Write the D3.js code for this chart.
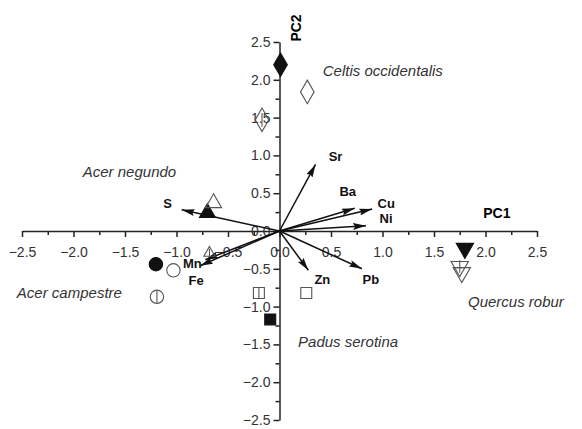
<!DOCTYPE html>
<html><head><meta charset="utf-8">
<script src="https://cdn.jsdelivr.net/npm/d3@7"></script>
<style>body{margin:0;background:#fff}svg{display:block}</style>
</head><body>
<svg id="c" width="582" height="429"></svg>
<script>
// Tick values
const xTicks = [-2.5,-2.0,-1.5,-1.0,-0.5,0.0,0.5,1.0,1.5,2.0,2.5];
const yTicks = [-2.5,-2.0,-1.5,-1.0,-0.5,0.0,0.5,1.0,1.5,2.0,2.5];
// Loading vectors
const varNames = ["S","Sr","Ba","Cu","Ni","Pb","Zn","Mn","Fe"];
const varPC1   = [-0.95,0.35,0.73,0.90,0.84,0.80,0.28,-0.72,-0.77];
const varPC2   = [0.28,0.88,0.30,0.29,0.07,-0.50,-0.52,-0.38,-0.46];
// Sample scores
const species  = ["Celtis","Celtis","Celtis","AcerN","AcerN","AcerN","AcerC","AcerC","AcerC","Quercus","Quercus","Quercus","Padus","Padus","Padus"];
const shapes   = ["diamond","diamond","diamond","triangle","triangle","triangle","circle","circle","circle","down","down","down","square","square","square"];
const fills    = ["filled","open","line","filled","open","line","filled","open","line","filled","open","line","filled","open","line"];
const scorePC1 = [0.01,0.27,-0.17,-0.70,-0.64,-0.68,-1.20,-1.03,-1.19,1.80,1.77,1.75,-0.09,0.26,-0.20];
const scorePC2 = [2.20,1.84,1.47,0.24,0.37,-0.29,-0.44,-0.52,-0.87,-0.23,-0.55,-0.47,-1.17,-0.82,-0.82];
// Species labels
const spLabels = ["Celtis occidentalis","Acer negundo","Acer campestre","Quercus robur","Padus serotina"];
const spLabX   = [0.42,-1.91,-2.55,1.83,0.18];
const spLabY   = [2.05,0.71,-0.88,-1.0,-1.53];

const svg = d3.select("#c");
const x = d3.scaleLinear().domain([-2.5,2.5]).range([22,537]);
const y = d3.scaleLinear().domain([-2.5,2.5]).range([420,42]);
const font = "Arial, 'Liberation Sans', sans-serif";
const x0 = x(0), y0 = y(0);

// X axis
const xAxis = svg.append("g").attr("transform",`translate(0,${y0})`)
  .call(d3.axisBottom(x).tickValues(xTicks).tickFormat(d3.format(".1f")).tickSize(6).tickSizeOuter(0));
xAxis.selectAll("text").attr("dy","1.2em");
const xMinor = svg.append("g").attr("transform",`translate(0,${y0})`)
  .call(d3.axisBottom(x).tickValues(d3.range(-2.25,2.5,0.5)).tickFormat("").tickSize(4).tickSizeOuter(0));
xMinor.select(".domain").remove();
// Y axis
const yAxis = svg.append("g").attr("transform",`translate(${x0},0)`)
  .call(d3.axisLeft(y).tickValues(yTicks).tickFormat(d3.format(".1f")).tickSize(6).tickSizeOuter(0));
const yMinor = svg.append("g").attr("transform",`translate(${x0},0)`)
  .call(d3.axisLeft(y).tickValues(d3.range(-2.25,2.5,0.5)).tickFormat("").tickSize(4).tickSizeOuter(0));
yMinor.select(".domain").remove();
svg.selectAll(".tick text").attr("font-size",14).attr("font-family",font).attr("fill","#333");
svg.selectAll(".domain,.tick line").attr("stroke","#222").attr("stroke-width",1.5);

// Axis titles
svg.append("text").attr("x",x(2.11)).attr("y",y(0.17)).attr("text-anchor","middle")
  .attr("font-family",font).attr("font-weight","bold").attr("font-size",14).text("PC1");
svg.append("text").attr("transform",`translate(${x0+21},28) rotate(-90)`).attr("text-anchor","middle")
  .attr("font-family",font).attr("font-weight","bold").attr("font-size",14).text("PC2");

// Arrow marker
svg.append("defs").append("marker").attr("id","arr").attr("viewBox","0 0 13 7")
  .attr("refX",13).attr("refY",3.5).attr("markerWidth",13).attr("markerHeight",7)
  .attr("markerUnits","userSpaceOnUse").attr("orient","auto")
  .append("path").attr("d","M0,0 L13,3.5 L0,7 L2,3.5 Z").attr("fill","#111");

varNames.forEach((n,i)=>{
  svg.append("line").attr("x1",x0).attr("y1",y0).attr("x2",x(varPC1[i])).attr("y2",y(varPC2[i]))
    .attr("stroke","#111").attr("stroke-width",1.5).attr("marker-end","url(#arr)");
});
const varLabDx = [-14,20,-7,14,20,9,14,-13,-4];
const varLabDy = [-2,-3,-12,-1,-3,15,14,8,19];
varNames.forEach((n,i)=>{
  svg.append("text").attr("x",x(varPC1[i])+varLabDx[i]).attr("y",y(varPC2[i])+varLabDy[i])
    .attr("text-anchor","middle").attr("font-family",font).attr("font-weight","bold")
    .attr("font-size",13).attr("fill","#111").text(n);
});

// Markers
const symMap = {diamond:d3.symbolDiamond, triangle:d3.symbolTriangle, circle:d3.symbolCircle, square:d3.symbolSquare, down:d3.symbolTriangle};
const sizeMap = {diamond:160, triangle:110, circle:140, square:120, down:130};
species.forEach((s,i)=>{
  const sh = shapes[i], f = fills[i];
  let size = sizeMap[sh];
  if (sh==="triangle" && f==="line") size = 55;
  const g = svg.append("g").attr("transform",`translate(${x(scorePC1[i])},${y(scorePC2[i])})${sh==="down"?" rotate(180)":""}`);
  g.append("path").attr("d",d3.symbol().type(symMap[sh]).size(size)())
    .attr("fill",f==="filled"?"#111":"#fff").attr("fill-opacity",f==="filled"?1:0.0)
    .attr("stroke",f==="filled"?"#111":"#555").attr("stroke-width",1.1);
  if (f==="line"){
    const r = Math.sqrt(size)/2;
    g.append("line").attr("x1",0).attr("x2",0).attr("y1",-r*1.1).attr("y2",r*1.1).attr("stroke","#555").attr("stroke-width",1.1);
    if (sh==="down") g.append("line").attr("x1",-r*0.8).attr("x2",r*0.8).attr("y1",-r*0.2).attr("y2",-r*0.2).attr("stroke","#555").attr("stroke-width",1.1);
  }
});

// Species labels
spLabels.forEach((t,i)=>{
  svg.append("text").attr("x",x(spLabX[i])).attr("y",y(spLabY[i]))
    .attr("font-family",font).attr("font-style","italic").attr("font-size",15).attr("fill","#333").text(t);
});
</script>
</body></html>
